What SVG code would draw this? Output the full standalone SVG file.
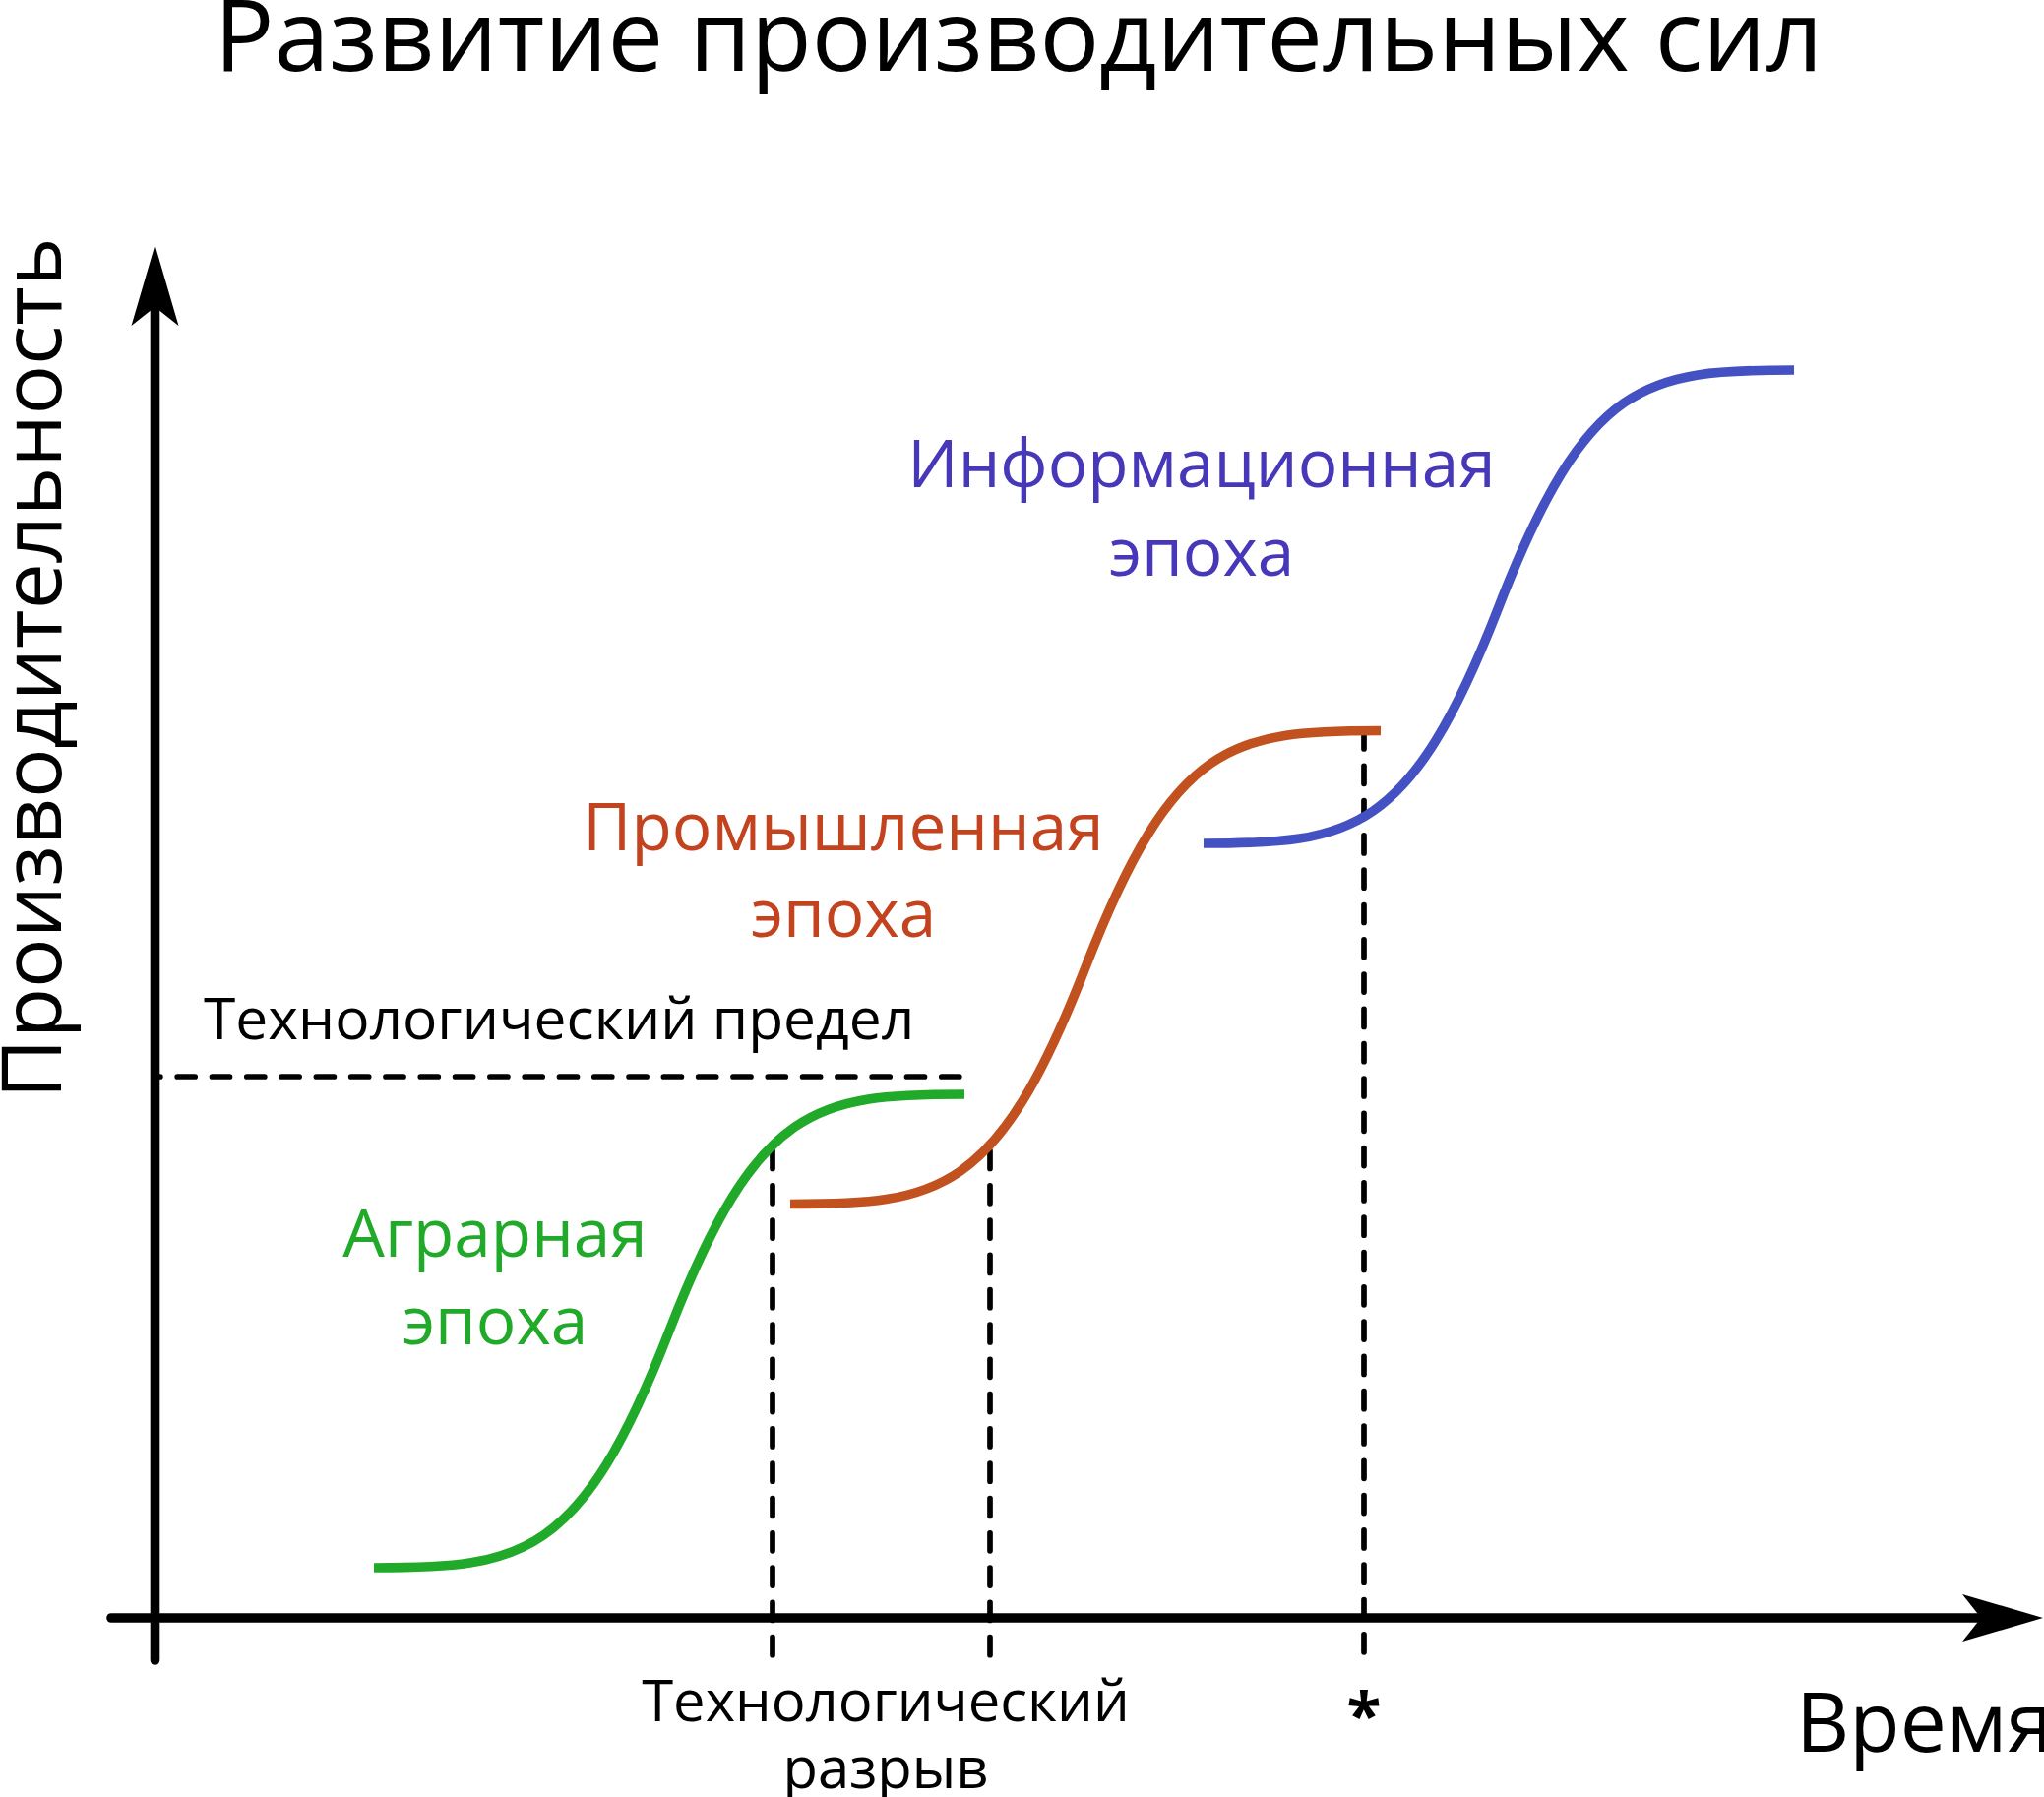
<svg xmlns="http://www.w3.org/2000/svg" width="2077" height="1826" viewBox="0 0 2077 1826">
  <style>
    text { font-family: "Open Sans", "Noto Sans", "DejaVu Sans", sans-serif; }
    .title { font-size: 101px; fill: #000; text-anchor: middle; }
    .axislabel { font-size: 84px; fill: #000; }
    .small { font-size: 58px; fill: #000; }
    .era { font-size: 67.5px; text-anchor: middle; }
    .axis { stroke: #000; stroke-width: 9.6; fill: none; stroke-linecap: round; }
    .dash { stroke: #000; stroke-width: 5.7; fill: none; stroke-linecap: round; stroke-dasharray: 18 17.3; }
    .curve { stroke-width: 9.6; fill: none; }
  </style>
  <defs>
    <marker id="arrow" markerUnits="userSpaceOnUse" viewBox="-22 -26 88 52" refX="0" refY="0" markerWidth="88" markerHeight="52" orient="auto" overflow="visible">
      <path d="M63,0 L-19,-24 L0,0 L-19,24 Z" fill="#000"/>
    </marker>
    <path id="sigmoid" d="M380,1593 C530,1593 590,1584.7 680,1352.5 S830,1112 980,1112"/>
  </defs>
  <rect width="2077" height="1826" fill="#fff"/>

  <g id="title">
    <text class="title" x="1035" y="72">Развитие производительных сил</text>
  </g>

  <g id="axes">
    <path id="y-axis" class="axis" d="M157.5,1687 L157.5,312" marker-end="url(#arrow)"/>
    <path id="x-axis" class="axis" d="M113,1644 L2013,1644" marker-end="url(#arrow)"/>
  </g>

  <g id="axis-labels">
    <text id="y-label" class="axislabel" text-anchor="middle" transform="translate(62,679) rotate(-90)">Производительность</text>
    <text id="x-label" class="axislabel" x="1825" y="1780">Время</text>
  </g>

  <g id="connectors">
    <path id="limit-line" class="dash" stroke-dashoffset="15.1" d="M160,1094 L977,1094"/>
    <path id="gap-line-1" class="dash" d="M785,1169.5 L785,1682"/>
    <path id="gap-line-2" class="dash" d="M1006,1169.5 L1006,1682"/>
    <path id="star-line" class="dash" d="M1386,743 L1386,1682"/>
  </g>

  <g id="curves">
    <use id="agrarian-curve" href="#sigmoid" class="curve" stroke="#21aa29"/>
    <use id="industrial-curve" href="#sigmoid" class="curve" stroke="#c1511f" transform="translate(423,-369.5)"/>
    <use id="information-curve" href="#sigmoid" class="curve" stroke="#4351c2" transform="translate(843,-736)"/>
  </g>

  <g id="agrarian-label">
    <text class="era" fill="#21aa29" x="503" y="1277">Аграрная</text>
    <text class="era" fill="#21aa29" x="503" y="1366">эпоха</text>
  </g>

  <g id="industrial-label">
    <text class="era" fill="#c3431f" x="857" y="864">Промышленная</text>
    <text class="era" fill="#c3431f" x="857" y="952">эпоха</text>
  </g>

  <g id="information-label">
    <text class="era" fill="#4737b9" x="1221" y="495">Информационная</text>
    <text class="era" fill="#4737b9" x="1221" y="585">эпоха</text>
  </g>

  <g id="limit-label">
    <text class="small" style="font-size:58.7px" x="207" y="1056">Технологический предел</text>
  </g>

  <g id="gap-label">
    <text class="small" text-anchor="middle" x="900" y="1749">Технологический</text>
    <text class="small" text-anchor="middle" x="900" y="1817">разрыв</text>
  </g>

  <g id="star-label">
    <text class="small" text-anchor="middle" font-weight="bold" style="font-size:64px" x="1386" y="1766">*</text>
  </g>
</svg>
